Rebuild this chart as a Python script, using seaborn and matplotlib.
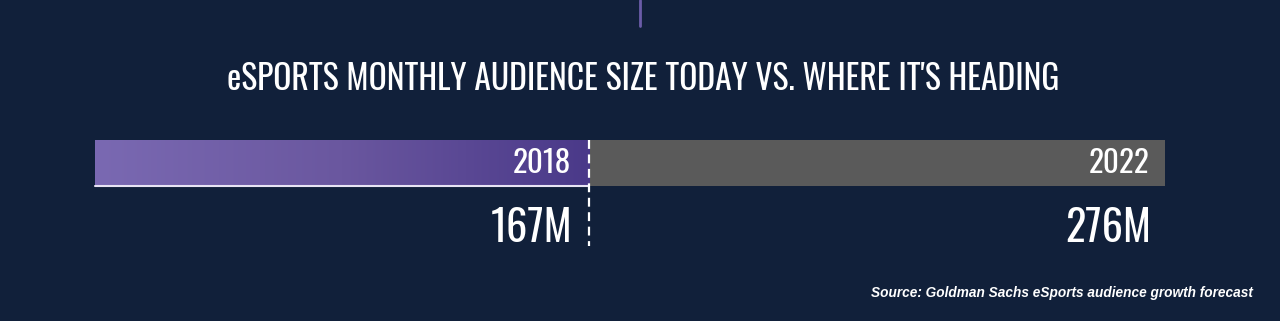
import matplotlib
matplotlib.use("Agg")
import matplotlib.pyplot as plt
import seaborn as sns
import numpy as np
import pandas as pd
from matplotlib.colors import LinearSegmentedColormap

# data
years = ["2018", "2022"]
audience_m = [167, 276]
value_labels = ["167M", "276M"]
title = "eSPORTS MONTHLY AUDIENCE SIZE TODAY VS. WHERE IT'S HEADING"
source = "Source: Goldman Sachs eSports audience growth forecast"

BG = "#11203a"
W, H = 1280, 321
sns.set_theme(style="white")
plt.rcParams["font.family"] = ["DejaVu Sans"]
COND = ["Oswald", "DejaVu Sans"]

fig = plt.figure(figsize=(W / 100, H / 100), dpi=100, facecolor=BG)

def fx(px):
    return px / W

def fy(py):
    return 1 - py / H

bar_left, bar_right, bar_top, bar_bot = 95, 1165, 140, 186
ax = fig.add_axes([fx(bar_left), fy(bar_bot), fx(bar_right - bar_left), (bar_bot - bar_top) / H])
ax.set_facecolor(BG)

df = pd.DataFrame({"row": ["audience", "audience"], "year": years, "value": audience_m})
sns.barplot(data=df[df.year == "2022"], x="value", y="row", orient="h", color="#5a5a5a",
            width=1.0, ax=ax, saturation=1, linewidth=0, edgecolor="none")
sns.barplot(data=df[df.year == "2018"], x="value", y="row", orient="h", color="#5e4c9c",
            width=1.0, ax=ax, saturation=1, linewidth=0, edgecolor="none")

x0 = 73.4
ax.set_xlim(x0, audience_m[1])
ax.set_ylim(0.5, -0.5)
ax.axis("off")

purple_patch = ax.patches[1]
cmap = LinearSegmentedColormap.from_list("pg", ["#7a69b2", "#6a579f", "#4a3989"])
grad = np.linspace(0, 1, 256).reshape(1, -1)
im = ax.imshow(grad, cmap=cmap, aspect="auto", extent=(x0, audience_m[0], 0.5, -0.5), zorder=3)
im.set_clip_path(purple_patch)

ax.plot([x0, audience_m[0]], [0.5, 0.5], color="#e8e4f4", lw=1.5, zorder=4, clip_on=False)

line_ax = fig.add_axes([0, 0, 1, 1], facecolor="none")
line_ax.set_xlim(0, W)
line_ax.set_ylim(H, 0)
line_ax.axis("off")
divx = bar_left + (audience_m[0] - x0) / (audience_m[1] - x0) * (bar_right - bar_left)
line_ax.plot([divx, divx], [140, 246], color="white", lw=1.6, ls=(0, (4, 2.5)), zorder=5)
line_ax.plot([640, 640], [0, 26], color="#6b5ca8", lw=2)

fs_cond = dict(fontweight="bold", color="white", family=COND)

fig.text(fx(643), fy(79), title, ha="center", va="center", fontsize=24.2, **fs_cond)

label_right = [divx - 18, 1150]
for xr, yr, vl in zip(label_right, years, value_labels):
    fig.text(fx(xr), fy(164), yr, ha="right", va="center", fontsize=22.5, **fs_cond)
    fig.text(fx(xr + 1), fy(229), vl, ha="right", va="center", fontsize=30.5, **fs_cond)

fig.text(fx(1253), fy(293), source, ha="right", va="center", fontsize=9.8,
         fontstyle="italic", fontweight="bold", color="white", family="Liberation Sans")

fig.savefig("out.png", dpi=100, facecolor=BG)
